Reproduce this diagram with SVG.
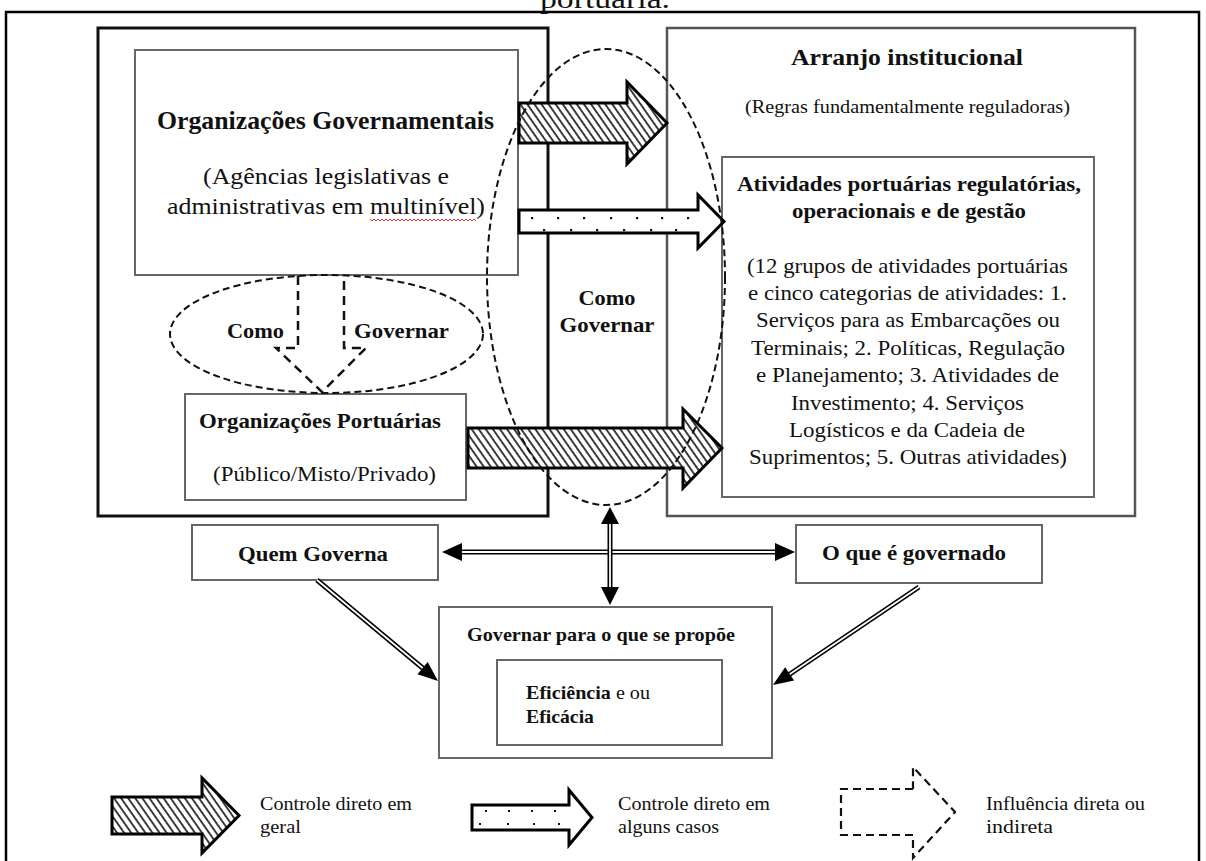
<svg xmlns="http://www.w3.org/2000/svg" width="1206" height="861" viewBox="0 0 1206 861" font-family="'Liberation Serif','Times New Roman',serif">
  <defs>
    <pattern id="hatch" patternUnits="userSpaceOnUse" width="5.8" height="10" patternTransform="rotate(-35)">
      <rect width="5.8" height="10" fill="#fff"/>
      <line x1="1" y1="0" x2="1" y2="10" stroke="#000" stroke-width="1.5"/>
    </pattern>
  </defs>
  <style>
    text{font-family:"Liberation Serif","Times New Roman",serif;fill:#111}
    .b{font-weight:bold}
    .box{fill:#fff;stroke:#666;stroke-width:2}
    .frame{fill:none;stroke:#000;stroke-width:2.5}
    .fat{fill:url(#hatch);stroke:#000;stroke-width:3;stroke-linejoin:miter}
    .dotted{fill:#fff;stroke:#000;stroke-width:3;stroke-linejoin:miter}
    .pt{fill:#111}
    .dash{fill:none;stroke:#111;stroke-width:2;stroke-dasharray:7 4}
    .dl-out{stroke:#000;stroke-width:5;fill:none}
    .dl-in{stroke:#fff;stroke-width:1.8;fill:none}
    .head{fill:#000}
  </style>

  <!-- page frame and caption tail -->
  <path class="frame" d="M6,870 V12 H1199 V870"/>
  <text x="540" y="8" font-size="28" textLength="130" lengthAdjust="spacingAndGlyphs">portuária.</text>

  <!-- who governs: outer container -->
  <g id="quem-governa-area">
    <rect x="98" y="28" width="450" height="488" fill="#fff" stroke="#111" stroke-width="3"/>
  </g>

  <!-- what is governed: outer container -->
  <g id="arranjo-institucional">
    <rect x="667" y="28" width="468" height="488" fill="#fff" stroke="#555" stroke-width="2.5"/>
    <text class="b" x="791" y="65" font-size="23.5" textLength="232" lengthAdjust="spacingAndGlyphs">Arranjo institucional</text>
    <text x="745" y="113" font-size="19" textLength="325" lengthAdjust="spacingAndGlyphs">(Regras fundamentalmente reguladoras)</text>
  </g>

  <g id="organizacoes-governamentais">
    <rect class="box" x="135" y="50" width="383" height="225" stroke-width="2.2"/>
    <text class="b" x="157" y="129" font-size="24.5" textLength="337" lengthAdjust="spacingAndGlyphs">Organizações Governamentais</text>
    <text x="203" y="184" font-size="24" textLength="246" lengthAdjust="spacingAndGlyphs">(Agências legislativas e</text>
    <text x="167" y="214" font-size="24" textLength="318" lengthAdjust="spacingAndGlyphs">administrativas em multinível)</text>
    <polyline fill="none" stroke="#e03030" stroke-width="1" points="370,219 372,221 374,219 376,221 378,219 380,221 382,219 384,221 386,219 388,221 390,219 392,221 394,219 396,221 398,219 400,221 402,219 404,221 406,219 408,221 410,219 412,221 414,219 416,221 418,219 420,221 422,219 424,221 426,219 428,221 430,219 432,221 434,219 436,221 438,219 440,221 442,219 444,221 446,219 448,221 450,219 452,221 454,219 456,221 458,219 460,221 462,219 464,221 466,219 468,221 470,219 472,221 474,219 476,221"/>
  </g>

  <g id="organizacoes-portuarias">
    <rect class="box" x="185" y="394" width="281" height="106" stroke="#777"/>
    <text class="b" x="199" y="428" font-size="21" textLength="242" lengthAdjust="spacingAndGlyphs">Organizações Portuárias</text>
    <text x="213" y="481" font-size="21" textLength="223" lengthAdjust="spacingAndGlyphs">(Público/Misto/Privado)</text>
  </g>

  <g id="atividades-portuarias">
    <rect class="box" x="722" y="157" width="372" height="340"/>
    <text class="b" x="737" y="191" font-size="22" textLength="344" lengthAdjust="spacingAndGlyphs">Atividades portuárias regulatórias,</text>
    <text class="b" x="792" y="218" font-size="22" textLength="234" lengthAdjust="spacingAndGlyphs">operacionais e de gestão</text>
    <text x="747" y="273" font-size="22" textLength="321" lengthAdjust="spacingAndGlyphs">(12 grupos de atividades portuárias</text>
    <text x="748" y="300" font-size="22" textLength="319" lengthAdjust="spacingAndGlyphs">e cinco categorias de atividades: 1.</text>
    <text x="756" y="327" font-size="22" textLength="304" lengthAdjust="spacingAndGlyphs">Serviços para as Embarcações ou</text>
    <text x="751" y="355" font-size="22" textLength="314" lengthAdjust="spacingAndGlyphs">Terminais; 2. Políticas, Regulação</text>
    <text x="756" y="382" font-size="22" textLength="303" lengthAdjust="spacingAndGlyphs">e Planejamento; 3. Atividades de</text>
    <text x="791" y="410" font-size="22" textLength="233" lengthAdjust="spacingAndGlyphs">Investimento; 4. Serviços</text>
    <text x="789" y="437" font-size="22" textLength="236" lengthAdjust="spacingAndGlyphs">Logísticos e da Cadeia de</text>
    <text x="749" y="464" font-size="22" textLength="318" lengthAdjust="spacingAndGlyphs">Suprimentos; 5. Outras atividades)</text>
  </g>

  <!-- control arrows between the two sides -->
  <g id="control-arrows">
    <polygon class="fat" points="519,103 627,103 627,82 667,123 627,164 627,143 519,143"/>
    <polygon class="dotted" points="519,210 698,210 698,195 724,221.5 698,248 698,233 519,233"/>
    <g class="pt">
      <rect x="531" y="217" width="2.2" height="2.2"/><rect x="557" y="217" width="2.2" height="2.2"/>
      <rect x="583" y="217" width="2.2" height="2.2"/><rect x="610" y="217" width="2.2" height="2.2"/>
      <rect x="636" y="217" width="2.2" height="2.2"/><rect x="661" y="217" width="2.2" height="2.2"/>
      <rect x="687" y="217" width="2.2" height="2.2"/>
      <rect x="543" y="229" width="2.2" height="2.2"/><rect x="570" y="229" width="2.2" height="2.2"/>
      <rect x="596" y="229" width="2.2" height="2.2"/><rect x="623" y="229" width="2.2" height="2.2"/>
      <rect x="650" y="229" width="2.2" height="2.2"/><rect x="675" y="229" width="2.2" height="2.2"/>
    </g>
    <polygon class="fat" points="468,428 683,428 683,409 722,448 683,488 683,468 468,468"/>
  </g>

  <!-- how to govern: dashed zones -->
  <g id="como-governar-central">
    <ellipse class="dash" cx="606" cy="277" rx="119" ry="228"/>
    <text class="b" x="578.5" y="305" font-size="21" textLength="57" lengthAdjust="spacingAndGlyphs">Como</text>
    <text class="b" x="559.5" y="332" font-size="21" textLength="95" lengthAdjust="spacingAndGlyphs">Governar</text>
  </g>

  <g id="como-governar-interno">
    <ellipse class="dash" cx="326.5" cy="334" rx="156.5" ry="59"/>
    <path fill="none" stroke="#111" stroke-width="2.5" stroke-dasharray="9 6" d="M298,276 V348 H276 L322,392 L366,348 H344 V276"/>
    <text class="b" x="227" y="338" font-size="21" textLength="57" lengthAdjust="spacingAndGlyphs">Como</text>
    <text class="b" x="354" y="338" font-size="21" textLength="95" lengthAdjust="spacingAndGlyphs">Governar</text>
  </g>

  <g id="quem-governa">
    <rect class="box" x="192" y="525" width="246" height="55"/>
    <text class="b" x="238" y="561" font-size="21" textLength="150" lengthAdjust="spacingAndGlyphs">Quem Governa</text>
  </g>

  <g id="o-que-e-governado">
    <rect class="box" x="796" y="525" width="246" height="58"/>
    <text class="b" x="822" y="560" font-size="21" textLength="184" lengthAdjust="spacingAndGlyphs">O que é governado</text>
  </g>

  <g id="governar-para">
    <rect class="box" x="439" y="607" width="333" height="151" stroke="#777"/>
    <text class="b" x="467" y="641" font-size="19" textLength="268" lengthAdjust="spacingAndGlyphs">Governar para o que se propõe</text>
  </g>

  <g id="eficiencia">
    <rect class="box" x="497" y="660" width="225" height="85" stroke-width="2.5"/>
    <text x="526" y="699" font-size="19" textLength="124" lengthAdjust="spacingAndGlyphs"><tspan class="b">Eficiência</tspan> e ou</text>
    <text class="b" x="526" y="723" font-size="19" textLength="68" lengthAdjust="spacingAndGlyphs">Eficácia</text>
  </g>

  <!-- double-line connectors -->
  <g id="connectors">
    <line class="dl-out" x1="458" y1="552" x2="779" y2="552"/>
    <line class="dl-in" x1="458" y1="552" x2="779" y2="552"/>
    <polygon class="head" points="442,552 462,543 462,561"/>
    <polygon class="head" points="795,552 775,543 775,561"/>

    <line class="dl-out" x1="610" y1="520" x2="610" y2="590"/>
    <line class="dl-in" x1="610" y1="520" x2="610" y2="590"/>
    <polygon class="head" points="610,507 601,524 619,524"/>
    <polygon class="head" points="610,605 601,587 619,587"/>

    <line class="dl-out" x1="317" y1="580" x2="425" y2="670"/>
    <line class="dl-in" x1="317" y1="580" x2="425" y2="670"/>
    <polygon class="head" points="438,681 417.5,674.3 427.7,662.1"/>

    <line class="dl-out" x1="919" y1="587" x2="787" y2="676"/>
    <line class="dl-in" x1="919" y1="587" x2="787" y2="676"/>
    <polygon class="head" points="773,685 785.1,667.3 794.1,680.5"/>
  </g>

  <!-- legend -->
  <g id="legend">
    <polygon class="fat" points="112,797 202,797 202,778 239,815.5 202,853 202,834 112,834"/>
    <text x="260" y="810" font-size="19" textLength="152" lengthAdjust="spacingAndGlyphs">Controle direto em</text>
    <text x="260" y="833" font-size="19" textLength="41" lengthAdjust="spacingAndGlyphs">geral</text>

    <polygon class="dotted" points="472,805 569,805 569,790 592,817.5 569,845 569,830 472,830"/>
    <g class="pt">
      <rect x="485" y="810" width="2" height="2"/><rect x="508" y="810" width="2" height="2"/>
      <rect x="531" y="810" width="2" height="2"/><rect x="554" y="810" width="2" height="2"/>
      <rect x="479" y="823" width="2" height="2"/><rect x="507" y="823" width="2" height="2"/>
      <rect x="533" y="823" width="2" height="2"/><rect x="558" y="823" width="2" height="2"/>
    </g>
    <text x="618" y="810" font-size="19" textLength="152" lengthAdjust="spacingAndGlyphs">Controle direto em</text>
    <text x="618" y="833" font-size="19" textLength="101" lengthAdjust="spacingAndGlyphs">alguns casos</text>

    <path fill="none" stroke="#111" stroke-width="2.2" stroke-dasharray="8 5" d="M913,789 H841 V835 H913 V858 L955,812 L913,767 V789"/>
    <text x="986" y="810" font-size="19" textLength="159" lengthAdjust="spacingAndGlyphs">Influência direta ou</text>
    <text x="986" y="833" font-size="19" textLength="67" lengthAdjust="spacingAndGlyphs">indireta</text>
  </g>
</svg>
